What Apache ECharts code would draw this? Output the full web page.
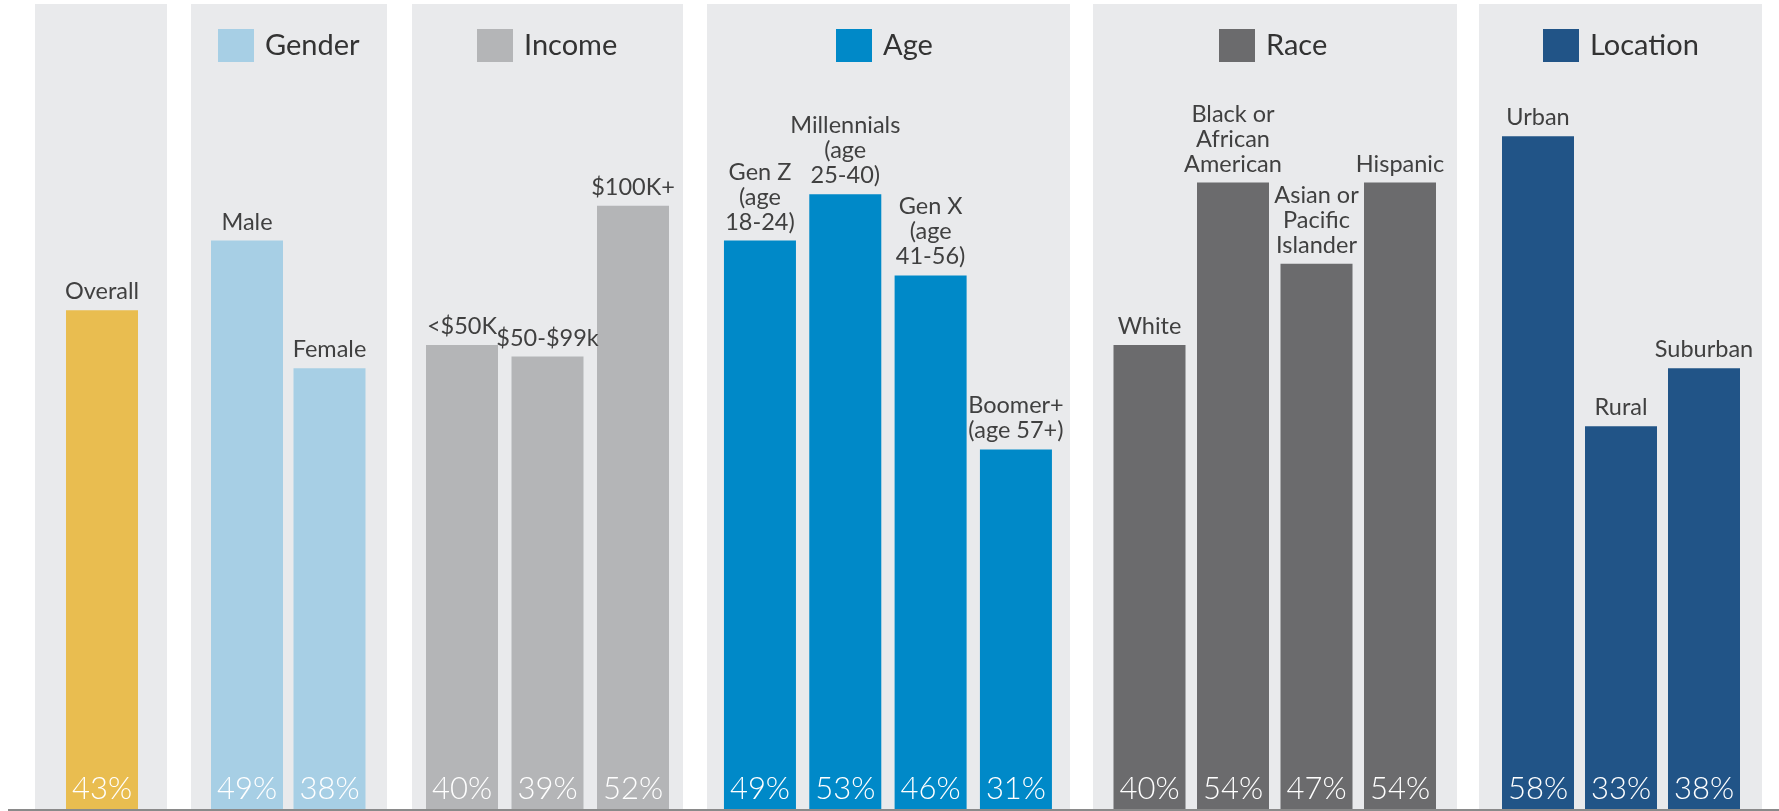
<!DOCTYPE html>
<html>
<head>
<meta charset="utf-8">
<script src="https://cdn.jsdelivr.net/npm/echarts@6/dist/echarts.min.js"></script>
<style>
html,body{margin:0;padding:0;background:#fff;}
#chart{width:1779px;height:811px;}
</style>
</head>
<body>
<div id="chart"></div>
<script>
// ---- data ----
const groupNames = ['Overall', 'Gender', 'Income', 'Age', 'Race', 'Location'];
const overallCats = ['Overall'];
const overallVals = [43];
const genderCats = ['Male', 'Female'];
const genderVals = [49, 38];
const incomeCats = ['<$50K', '$50-$99k', '$100K+'];
const incomeVals = [40, 39, 52];
const ageCats = ['Gen Z\n(age\n18-24)', 'Millennials\n(age\n25-40)', 'Gen X\n(age\n41-56)', 'Boomer+\n(age 57+)'];
const ageVals = [49, 53, 46, 31];
const raceCats = ['White', 'Black or\nAfrican\nAmerican', 'Asian or\nPacific\nIslander', 'Hispanic'];
const raceVals = [40, 54, 47, 54];
const locationCats = ['Urban', 'Rural', 'Suburban'];
const locationVals = [58, 33, 38];

// ---- styling / layout ----
const groupCats = [overallCats, genderCats, incomeCats, ageCats, raceCats, locationCats];
const groupVals = [overallVals, genderVals, incomeVals, ageVals, raceVals, locationVals];
const groupColors = ['#E9BD50', '#A7CFE5', '#B4B5B7', '#0089C8', '#6B6B6D', '#215487'];
const panelX = [[35, 167], [191, 387], [412, 683], [707, 1070], [1093, 1457], [1479, 1762]];
const gridBox = [[60, 84], [205.75, 165], [419.25, 256.5], [717.3, 341.3], [1107.75, 334], [1496.5, 249]];
const legendLeft = [null, 218, 477, 836, 1219, 1543];
const FONT = 'Lato, "Open Sans", sans-serif';

const chart = echarts.init(document.getElementById('chart'), null, {renderer: 'canvas'});

const grids = [], xAxes = [], yAxes = [], series = [], legends = [], graphics = [];
groupNames.forEach((g, i) => {
  grids.push({left: gridBox[i][0], width: gridBox[i][1], top: 113, bottom: 2, containLabel: false});
  xAxes.push({type: 'category', gridIndex: i, data: groupCats[i], show: false});
  yAxes.push({type: 'value', gridIndex: i, min: 0, max: 60, show: false});
  series.push({
    name: g, type: 'bar', xAxisIndex: i, yAxisIndex: i,
    data: groupVals[i], barWidth: 72, barGap: '-100%',
    itemStyle: {color: groupColors[i]},
    label: {show: true, position: 'top', distance: 6, formatter: '{b}',
      color: '#404040', fontFamily: FONT, fontSize: 23.5, lineHeight: 25, align: 'center'},
    z: 3
  });
  series.push({
    name: g + ' %', type: 'bar', xAxisIndex: i, yAxisIndex: i,
    data: groupVals[i], barWidth: 72, barGap: '-100%',
    itemStyle: {color: 'rgba(0,0,0,0)'},
    label: {show: true, position: 'insideBottom', distance: 5, formatter: '{c}%',
      color: '#ffffff', fontFamily: FONT, fontWeight: 300, fontSize: 31, lineHeight: 30},
    z: 4
  });
  if (legendLeft[i] !== null) {
    legends.push({
      data: [g], left: legendLeft[i], top: 29, padding: 0, orient: 'horizontal',
      icon: 'rect', itemWidth: 36, itemHeight: 33, selectedMode: false,
      textStyle: {color: '#333333', fontFamily: FONT, fontSize: 29, padding: [0, 0, 0, 6]}
    });
  }
  graphics.push({
    type: 'rect', z: -10, silent: true,
    shape: {x: panelX[i][0], y: 4, width: panelX[i][1] - panelX[i][0], height: 807},
    style: {fill: '#E9EAEC'}
  });
});
graphics.push({
  type: 'line', z: 100, silent: true,
  shape: {x1: 8, y1: 810, x2: 1779, y2: 810},
  style: {stroke: '#8a8a8a', lineWidth: 2}
});

chart.setOption({
  backgroundColor: '#ffffff',
  animation: false,
  graphic: {elements: graphics},
  legend: legends,
  grid: grids,
  xAxis: xAxes,
  yAxis: yAxes,
  series: series
});
</script>
</body>
</html>
